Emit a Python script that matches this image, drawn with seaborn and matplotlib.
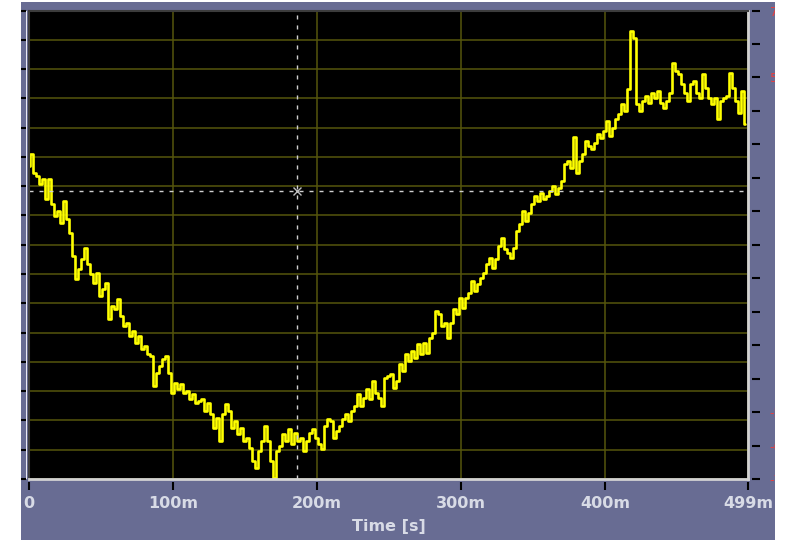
import numpy as np
import matplotlib
matplotlib.use("Agg")
import matplotlib.pyplot as plt
from matplotlib.patches import Rectangle
import seaborn as sns

# Acquired channel, ADC counts, one sample every 2.08 ms
SAMPLE_PERIOD = 0.00208
signal_counts = [
    79, 91, 72, 69, 61, 66, 46, 66, 41, 29, 34, 22, 44, 26, 12, -11, -34, -24, -14, -3,
    -19, -29, -38, -28, -51, -44, -38, -74, -61, -64, -54, -71, -81, -78, -91, -86, -98, -91, -104, -101,
    -109, -111, -141, -128, -121, -114, -111, -128, -148, -138, -144, -139, -148, -146, -154, -149, -158, -156, -154, -166,
    -158, -169, -183, -173, -196, -169, -159, -166, -183, -176, -189, -183, -196, -193, -203, -216, -223, -206, -196, -181,
    -196, -216, -233, -206, -201, -189, -196, -184, -199, -188, -196, -193, -206, -196, -188, -184, -193, -199, -204, -181,
    -174, -176, -193, -186, -181, -174, -169, -176, -166, -161, -149, -161, -153, -144, -154, -136, -148, -153, -161, -133,
    -131, -129, -143, -136, -119, -126, -109, -116, -106, -113, -99, -109, -98, -108, -93, -88, -66, -69, -81, -78,
    -93, -78, -64, -69, -53, -63, -53, -48, -36, -46, -39, -33, -28, -19, -13, -23, -14, -1, 7, -4,
    -8, -13, -3, 14, 21, 34, 24, 32, 41, 49, 44, 52, 46, 49, 54, 59, 51, 57, 64, 81,
    84, 77, 108, 72, 84, 91, 104, 99, 96, 102, 111, 107, 114, 124, 109, 117, 126, 131, 141, 134,
    156, 214, 207, 141, 134, 144, 149, 142, 152, 147, 154, 142, 137, 144, 152, 182, 174, 171, 161, 152,
    144, 161, 164, 152, 147, 171, 157, 147, 141, 147, 126, 144, 147, 149, 172, 157, 144, 132, 154, 121,
]
time_s = np.arange(len(signal_counts)) * SAMPLE_PERIOD

x_ticks = [0.0, 0.1, 0.2, 0.3, 0.4, 0.499]
x_tick_labels = ["0", "100m", "200m", "300m", "400m", "499m"]
y_limits = (-234, 234)
grid_levels = np.linspace(-234, 234, 17)
right_ticks = list(range(7, -8, -1))
right_tick_text = {7: "7", 5: "5", -5: "-5", -6: "-6", -7: "-7"}
cursor_time = 0.186
cursor_level = 54

sns.set_style("dark")
plt.rcParams["font.family"] = ["DejaVu Sans"]

W, H = 787, 540
fig = plt.figure(figsize=(W / 100, H / 100), dpi=100)
fig.patch.set_facecolor("white")

# instrument panel background
fig.add_artist(Rectangle((21 / W, 0), (775 - 21) / W, 538 / H,
                         transform=fig.transFigure, facecolor="#686c93",
                         edgecolor="none", zorder=-5))

ax = fig.add_axes([29 / W, 61 / H, 719 / W, 468.5 / H])
ax.set_facecolor("black")
ax.set_axisbelow(True)

sns.lineplot(x=time_s, y=signal_counts, ax=ax, color="#ffff00", lw=1.9,
             drawstyle="steps-mid", estimator=None, sort=False)

ax.set_xlim(0, 0.499)
ax.set_ylim(*y_limits)
ax.set_xticks(x_ticks)
ax.set_yticks(grid_levels)
ax.tick_params(length=0, labelbottom=False, labelleft=False)
ax.grid(True, color="#55550c", lw=1.1)
ax.set_xlabel("")
ax.set_ylabel("")

for side in ("left", "top"):
    ax.spines[side].set_color("#3c3c3c")
    ax.spines[side].set_linewidth(1.5)
for side in ("bottom", "right"):
    ax.spines[side].set_color("#d2d2d2")
    ax.spines[side].set_linewidth(2)
for sp in ax.spines.values():
    sp.set_visible(True)

# cursor crosshair
dash = (2.9, 4.3)
ax.axvline(cursor_time, color="#d0d0d0", lw=1, dashes=dash)
ax.axhline(cursor_level, color="#d0d0d0", lw=1, dashes=dash)
ax.plot([cursor_time], [cursor_level], marker="x", ms=6, mew=1, color="#bdbdbd")

label_color = "#d8dbe6"

# time scale
secx = ax.secondary_xaxis(-3 / 468.5)
secx.set_xticks(x_ticks, labels=x_tick_labels)
secx.spines["bottom"].set_visible(False)
secx.tick_params(direction="out", length=5.8, width=1.5, color="black",
                 labelcolor=label_color, labelsize=11.5, pad=4.5)
for t in secx.get_xticklabels():
    t.set_fontweight("bold")
secx.set_xlabel("Time [s]", fontsize=11.5, fontweight="bold", color=label_color, labelpad=5.5)

# left division marks
secl = ax.secondary_yaxis(-2.5 / 719)
secl.set_yticks(grid_levels, labels=[""] * len(grid_levels))
secl.spines["left"].set_visible(False)
secl.tick_params(direction="out", length=3.8, width=1.5, color="black")

# right-hand scale
secr = ax.secondary_yaxis(1 + 4 / 719, functions=(lambda v: v * 7 / 234,
                                                   lambda r: r * 234 / 7))
secr.set_yticks(right_ticks, labels=[right_tick_text.get(r, "") for r in right_ticks])
secr.spines["right"].set_visible(False)
secr.tick_params(direction="out", length=5.8, width=1.5, color="black",
                 labelcolor="#e84040", labelsize=9, pad=7)

# page margin on the right
fig.add_artist(Rectangle((775 / W, 0), (W - 775) / W, 1, transform=fig.transFigure,
                         facecolor="white", edgecolor="none", zorder=10))

fig.savefig("out.png", dpi=100, facecolor=fig.get_facecolor())
